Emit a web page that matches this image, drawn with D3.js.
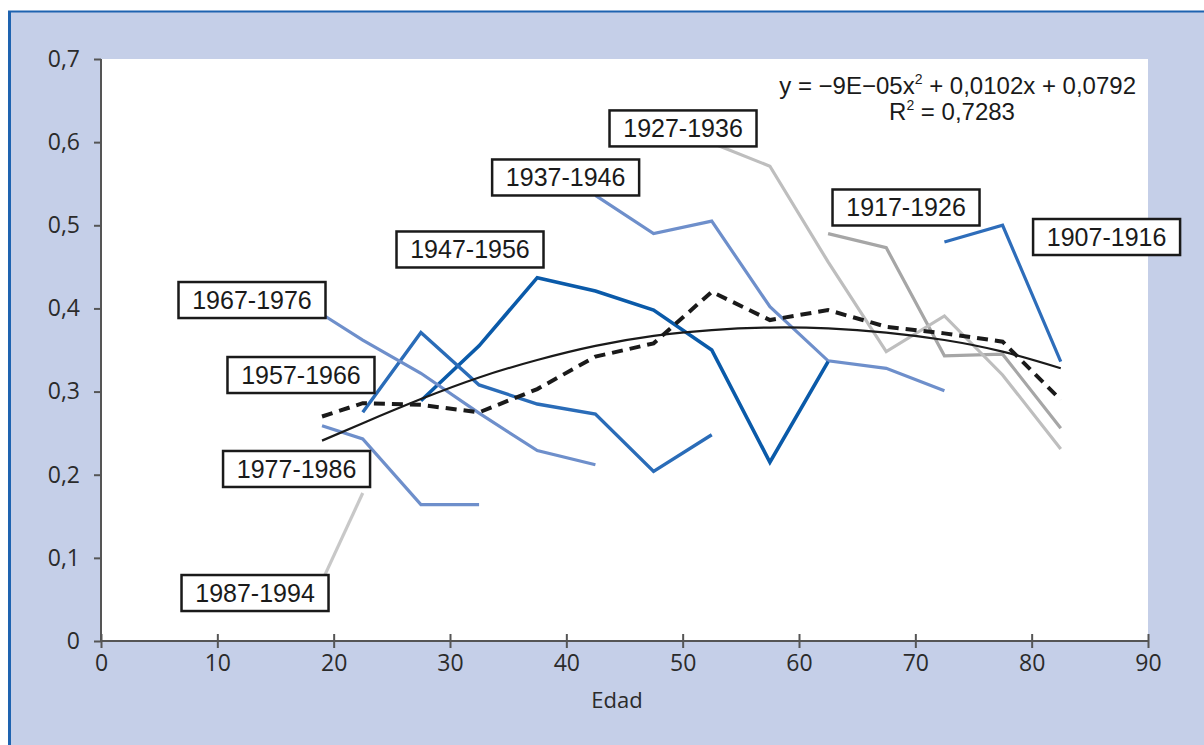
<!DOCTYPE html>
<html>
<head>
<meta charset="utf-8">
<script src="https://cdn.jsdelivr.net/npm/d3@7"></script>
<style>
  html, body { margin: 0; padding: 0; background: #ffffff; }
  svg { display: block; }
</style>
</head>
<body>
<svg id="chart" width="1204" height="745"></svg>
<script>
// ---------------- DATA ----------------
const ages = [19, 22.5, 27.5, 32.5, 37.5, 42.5, 47.5, 52.5, 57.5, 62.5, 67.5, 72.5, 77.5, 82.5];

const cohorts = ["1907-1916", "1917-1926", "1927-1936", "1937-1946", "1947-1956",
                 "1957-1966", "1967-1976", "1977-1986", "1987-1994"];

// values per cohort, aligned with "ages" (null = no observation)
const v1907 = [null, null, null, null, null, null, null, null, null, null, null, 0.480, 0.500, 0.336];
const v1917 = [null, null, null, null, null, null, null, null, null, 0.490, 0.473, 0.343, 0.345, 0.256];
const v1927 = [null, null, null, null, null, null, null, 0.599, 0.571, 0.456, 0.348, 0.391, 0.320, 0.231];
const v1937 = [null, null, null, null, null, 0.536, 0.490, 0.505, 0.402, 0.337, 0.328, 0.301, null, null];
const v1947 = [null, null, 0.289, 0.355, 0.437, 0.421, 0.398, 0.350, 0.215, 0.336, null, null, null, null];
const v1957 = [null, 0.275, 0.371, 0.308, 0.285, 0.273, 0.204, 0.248, null, null, null, null, null, null];
const v1967 = [0.393, 0.362, 0.322, 0.274, 0.229, 0.212, null, null, null, null, null, null, null, null];
const v1977 = [0.259, 0.243, 0.164, 0.164, null, null, null, null, null, null, null, null, null, null];
const v1987 = [0.072, 0.178, null, null, null, null, null, null, null, null, null, null, null, null];

// average over cohorts (dashed)
const vMean = [0.270, 0.286, 0.284, 0.275, 0.303, 0.342, 0.358, 0.420, 0.386, 0.398, 0.378, 0.370, 0.360, 0.290];
// polynomial trend as drawn
const vTrend = [0.241, 0.262, 0.291, 0.317, 0.338, 0.355, 0.367, 0.374, 0.377, 0.376, 0.371, 0.362, 0.348, 0.328];

const xTicks = [0, 10, 20, 30, 40, 50, 60, 70, 80, 90];
const yTicks = [0, 0.1, 0.2, 0.3, 0.4, 0.5, 0.6, 0.7];
const xTitle = "Edad";
const eqLine1 = ["y = \u22129E\u221205x", "2", " + 0,0102x + 0,0792"];
const eqLine2 = ["R", "2", " = 0,7283"];

// ---------------- STYLE / LAYOUT ----------------
const seriesStyle = {
  "1907-1916": { values: v1907, color: "#2E6DBA", width: 3.2 },
  "1917-1926": { values: v1917, color: "#A6A6A6", width: 3.2 },
  "1927-1936": { values: v1927, color: "#BEBEBE", width: 3.2 },
  "1937-1946": { values: v1937, color: "#6E8FCB", width: 3.2 },
  "1947-1956": { values: v1947, color: "#0A5AA9", width: 3.6 },
  "1957-1966": { values: v1957, color: "#2A6CB8", width: 3.4 },
  "1967-1976": { values: v1967, color: "#6E8FCB", width: 3.2 },
  "1977-1986": { values: v1977, color: "#6E8FCB", width: 3.2 },
  "1987-1994": { values: v1987, color: "#C8C8C8", width: 3.2 }
};
// label box centres, in data units
const labelPos = {
  "1927-1936": [50.03, 0.6165],
  "1937-1946": [39.94, 0.5575],
  "1917-1926": [69.20, 0.5214],
  "1907-1916": [86.44, 0.4859],
  "1947-1956": [31.72, 0.4709],
  "1967-1976": [12.98, 0.4101],
  "1957-1966": [17.19, 0.3199],
  "1977-1986": [16.81, 0.2069],
  "1987-1994": [13.24, 0.0577]
};

const svg = d3.select("#chart");
const W = 1204, H = 745;
const plot = { left: 101, right: 1148, top: 59, bottom: 641 };
const tickFont = "'Open Sans', 'DejaVu Sans', sans-serif";
const labelFont = "'Liberation Sans', Arial, sans-serif";

// outer panel
svg.append("rect").attr("x", 8).attr("y", 11).attr("width", W - 8).attr("height", H - 11)
  .attr("fill", "#C5CFE8");
svg.append("line").attr("x1", 9.5).attr("x2", 9.5).attr("y1", 11).attr("y2", H)
  .attr("stroke", "#1E63B0").attr("stroke-width", 3);
svg.append("line").attr("x1", 8).attr("x2", W).attr("y1", 11.5).attr("y2", 11.5)
  .attr("stroke", "#1E63B0").attr("stroke-width", 2);

// plot background
svg.append("rect").attr("x", plot.left).attr("y", plot.top)
  .attr("width", plot.right - plot.left).attr("height", plot.bottom - plot.top)
  .attr("fill", "#ffffff");

const x = d3.scaleLinear().domain([0, 90]).range([plot.left, plot.right]);
const y = d3.scaleLinear().domain([0, 0.7]).range([plot.bottom, plot.top]);

// axes
const fmtY = v => (v === 0 ? "0" : d3.format(".1f")(v).replace(".", ","));
const yAxis = svg.append("g").attr("transform", `translate(${plot.left},0)`)
  .call(d3.axisLeft(y).tickValues(yTicks).tickFormat(fmtY).tickSize(7).tickPadding(14));
const xAxis = svg.append("g").attr("transform", `translate(0,${plot.bottom})`)
  .call(d3.axisBottom(x).tickValues(xTicks).tickFormat(d3.format("d")).tickSize(0).tickPadding(14));
// crossing ticks on x axis
xAxis.selectAll(".tick").append("line").attr("y1", -7).attr("y2", 7)
  .attr("stroke", "#555").attr("stroke-width", 2);
[yAxis, xAxis].forEach(g => {
  g.select(".domain").attr("stroke", "#555").attr("stroke-width", 2);
  g.selectAll(".tick line").attr("stroke", "#555").attr("stroke-width", 2);
  g.selectAll(".tick text").attr("font-family", tickFont).attr("font-size", 23)
    .attr("fill", "#2b2b2b");
});
xAxis.selectAll(".tick text").attr("dy", "0.71em");
xAxis.select(".domain").attr("d", `M${plot.left},0H${plot.right}`);
yAxis.select(".domain").attr("d", `M0,${plot.bottom}V${plot.top}`);

svg.append("text").attr("x", 617).attr("y", 708).attr("text-anchor", "middle")
  .attr("font-family", tickFont).attr("font-size", 22).attr("fill", "#2b2b2b").text(xTitle);

// lines
const line = d3.line()
  .defined(d => d[1] !== null)
  .x(d => x(d[0])).y(d => y(d[1]));
const gLines = svg.append("g");
cohorts.forEach(c => {
  const s = seriesStyle[c];
  gLines.append("path")
    .datum(ages.map((a, i) => [a, s.values[i]]))
    .attr("d", line)
    .attr("fill", "none").attr("stroke", s.color).attr("stroke-width", s.width)
    .attr("stroke-linejoin", "miter");
});

// trend (smooth)
gLines.append("path")
  .datum(ages.map((a, i) => [a, vTrend[i]]))
  .attr("d", d3.line().x(d => x(d[0])).y(d => y(d[1])).curve(d3.curveNatural))
  .attr("fill", "none").attr("stroke", "#1a1a1a").attr("stroke-width", 2.2);

// mean (dashed)
gLines.append("path")
  .datum(ages.map((a, i) => [a, vMean[i]]))
  .attr("d", d3.line().x(d => x(d[0])).y(d => y(d[1])))
  .attr("fill", "none").attr("stroke", "#1a1a1a").attr("stroke-width", 4)
  .attr("stroke-dasharray", "11,7");

// labels
const boxW = 147, boxH = 36;
const gLab = svg.append("g");
cohorts.forEach(c => {
  const [lx, ly] = labelPos[c];
  const cx = x(lx), cy = y(ly);
  const g = gLab.append("g");
  g.append("rect").attr("x", cx - boxW / 2).attr("y", cy - boxH / 2)
    .attr("width", boxW).attr("height", boxH)
    .attr("fill", "#ffffff").attr("stroke", "#1a1a1a").attr("stroke-width", 2.5);
  g.append("text").attr("x", cx).attr("y", cy).attr("dy", "0.36em")
    .attr("text-anchor", "middle").attr("font-family", labelFont).attr("font-size", 25)
    .attr("fill", "#1a1a1a").text(c);
});

// equation
function supText(parts, xPos, yPos, anchor) {
  const t = svg.append("text").attr("x", xPos).attr("y", yPos).attr("text-anchor", anchor)
    .attr("font-family", labelFont).attr("font-size", 24).attr("fill", "#1a1a1a");
  t.append("tspan").text(parts[0]);
  t.append("tspan").attr("font-size", 14).attr("dy", -10).text(parts[1]);
  t.append("tspan").attr("dy", 10).text(parts[2]);
}
supText(eqLine1, 1136, 94, "end");
supText(eqLine2, 952, 120, "middle");
</script>
</body>
</html>
